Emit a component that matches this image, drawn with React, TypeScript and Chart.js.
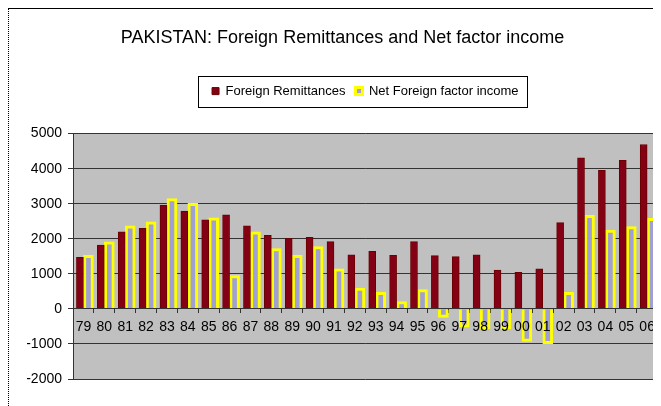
import React, { useEffect, useRef } from 'react';
import { Chart, registerables } from 'chart.js';

Chart.register(...registerables);

const years = ['79','80','81','82','83','84','85','86','87','88','89','90','91','92','93','94','95','96','97','98','99','00','01','02','03','04','05','06'];
const foreignRemittances = [1470,1820,2200,2300,2960,2790,2540,2680,2370,2100,2010,2040,1920,1540,1640,1530,1920,1520,1490,1540,1110,1040,1140,2460,4310,3950,4240,4690];
const netFactorIncome = [1530,1910,2370,2480,3150,3010,2600,950,2200,1720,1530,1780,1140,590,470,210,550,-240,-520,-570,-570,-930,-990,470,2670,2250,2350,2580];
const yTicks = [-2000,-1000,0,1000,2000,3000,4000,5000];

const FONT = "'Liberation Sans', Arial, sans-serif";

const plotBg = {
  id: 'plotBg',
  beforeDraw(chart: any) {
    const { ctx, chartArea } = chart;
    if (!chartArea) return;
    ctx.save();
    ctx.fillStyle = '#C0C0C0';
    ctx.fillRect(chartArea.left, chartArea.top, chartArea.right - chartArea.left, chartArea.bottom - chartArea.top);
    ctx.restore();
  },
};

const legendSpacer = {
  id: 'legendSpacer',
  beforeLayout(chart: any) {
    const lg = chart.legend;
    if (lg && !lg.__patched) {
      const orig = lg.fit;
      lg.fit = function () {
        orig.call(this);
        this.height += 26;
      };
      lg.__patched = true;
    }
  },
};

const legendBorder = {
  id: 'legendBorder',
  afterDraw(chart: any) {
    const lg = chart.legend;
    if (!lg || !lg.legendHitBoxes || !lg.legendHitBoxes.length) return;
    const hb = lg.legendHitBoxes;
    let minX = Infinity, maxX = -Infinity, minY = Infinity, maxY = -Infinity;
    hb.forEach((b: any) => {
      minX = Math.min(minX, b.left);
      maxX = Math.max(maxX, b.left + b.width);
      minY = Math.min(minY, b.top);
      maxY = Math.max(maxY, b.top + b.height);
    });
    const { ctx } = chart;
    ctx.save();
    ctx.strokeStyle = '#000';
    ctx.lineWidth = 1;
    ctx.strokeRect(Math.round(minX - 14) + 0.5, Math.round(minY - 9) + 0.5, Math.round(maxX - minX + 22), Math.round(maxY - minY + 18));
    ctx.restore();
  },
};

export default function App() {
  const ref = useRef<HTMLCanvasElement>(null);
  useEffect(() => {
    if (!ref.current) return;
    const chart = new Chart(ref.current, {
      type: 'bar',
      data: {
        labels: years,
        datasets: [
          {
            label: 'Foreign Remittances',
            data: foreignRemittances,
            backgroundColor: '#840014',
            borderColor: '#6A0000',
            borderWidth: 1,
            barThickness: 7,
          },
          {
            label: 'Net Foreign factor income',
            data: netFactorIncome,
            backgroundColor: '#A0A0D4',
            borderColor: '#FFFF00',
            borderWidth: 3,
            barThickness: 10,
          },
        ],
      },
      options: {
        responsive: false,
        animation: false,
        categoryPercentage: 0.81,
        barPercentage: 1.2,
        layout: { padding: { left: 18, right: 3, top: 0, bottom: 27 } },
        plugins: {
          title: {
            display: true,
            text: 'PAKISTAN: Foreign Remittances and Net factor income',
            color: '#000',
            font: { family: FONT, size: 18, weight: 'normal' },
            padding: { top: 18, bottom: 26 },
          },
          legend: {
            display: true,
            fullSize: false,
            labels: {
              color: '#000',
              boxWidth: 7,
              boxHeight: 7,
              padding: 10,
              font: { family: FONT, size: 13 },
            },
          },
          tooltip: { enabled: false },
        },
        scales: {
          x: {
            position: { y: 0 } as any,
            grid: { display: true, drawOnChartArea: false, drawTicks: true, tickLength: 4, color: '#333', offset: true },
            border: { display: true, color: '#333', width: 1, z: 1 },
            ticks: { color: '#000', font: { family: FONT, size: 14 }, padding: 6, maxRotation: 0, autoSkip: false, z: 1 },
          },
          y: {
            min: -2000,
            max: 5000,
            afterFit(scale: any) { scale.width = 46; },
            afterBuildTicks(scale: any) { scale.ticks = yTicks.map((v) => ({ value: v })); },
            grid: { color: '#333', tickLength: 5, drawTicks: true },
            border: { display: true, color: '#333' },
            ticks: { color: '#000', font: { family: FONT, size: 14 }, padding: 6, callback: (v: any) => String(v) },
          },
        },
      },
      plugins: [plotBg, legendSpacer, legendBorder],
    });
    return () => chart.destroy();
  }, []);
  return (
    <div style={{ width: 653, height: 398, borderTop: '1px solid #000', borderLeft: '1px dotted #000', boxSizing: 'border-box', background: '#fff' }}>
      <canvas ref={ref} width={652} height={397} style={{ display: 'block' }} />
    </div>
  );
}
